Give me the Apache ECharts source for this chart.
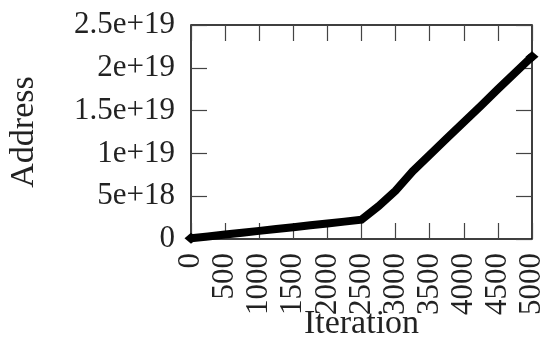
<!DOCTYPE html>
<html>
<head>
<meta charset="utf-8">
<script src="https://cdn.jsdelivr.net/npm/echarts@6/dist/echarts.min.js"></script>
<style>
  html, body { margin: 0; padding: 0; background: #fff; }
  #chart { width: 552px; height: 341px; }
</style>
</head>
<body>
<div id="chart"></div>
<script>
// Address reached at each iteration
const iterations = [0, 250, 500, 750, 1000, 1250, 1500, 1750, 2000, 2250, 2500,
  2750, 3000, 3250, 3500, 3750, 4000, 4250, 4500, 4750, 5000];
const addresses = [0.08e18, 0.30e18, 0.52e18, 0.74e18, 0.95e18, 1.17e18, 1.38e18,
  1.60e18, 1.81e18, 2.03e18, 2.25e18, 3.83e18, 5.64e18, 7.90e18, 9.84e18,
  11.75e18, 13.65e18, 15.55e18, 17.50e18, 19.40e18, 21.30e18];

const xTickLabels = ['0', '500', '1000', '1500', '2000', '2500', '3000', '3500', '4000', '4500', '5000'];
const yTickLabels = ['0', '5e+18', '1e+19', '1.5e+19', '2e+19', '2.5e+19'];

const FONT = 'Liberation Serif';
const X_STEP = 500;
const Y_STEP = 5e18;

const points = iterations.map((it, i) => [it, addresses[i]]);

function ticks() {
  return { show: true, inside: true, length: 16, lineStyle: { color: '#444', width: 1.2 } };
}
function noLine() {
  return { show: false, onZero: false };
}

const chart = echarts.init(document.getElementById('chart'), null, { renderer: 'canvas' });
chart.setOption({
  animation: false,
  backgroundColor: '#fff',
  grid: {
    left: 191, right: 20, top: 25, bottom: 102,
    containLabel: false, outerBoundsMode: 'none',
    show: true, borderColor: '#000', borderWidth: 1.5, backgroundColor: 'transparent'
  },
  xAxis: [{
    type: 'value', min: 0, max: 5000, interval: X_STEP, position: 'bottom',
    name: 'Iteration', nameLocation: 'middle', nameGap: 68, nameMoveOverlap: false,
    nameTextStyle: { fontFamily: FONT, fontSize: 34, color: '#222' },
    axisLine: noLine(), axisTick: ticks(), splitLine: { show: false },
    axisLabel: {
      rotate: 90, margin: 14, fontFamily: FONT, fontSize: 31, color: '#222',
      formatter: v => xTickLabels[Math.round(v / X_STEP)]
    }
  }, {
    type: 'value', min: 0, max: 5000, interval: X_STEP, position: 'top',
    axisLine: noLine(), axisTick: ticks(), splitLine: { show: false },
    axisLabel: { show: false }
  }],
  yAxis: [{
    type: 'value', min: 0, max: 2.5e19, interval: Y_STEP, position: 'left',
    name: 'Address', nameLocation: 'middle', nameGap: 150, nameMoveOverlap: false,
    nameTextStyle: { fontFamily: FONT, fontSize: 34, color: '#222' },
    axisLine: noLine(), axisTick: ticks(), splitLine: { show: false },
    axisLabel: {
      margin: 16, fontFamily: FONT, fontSize: 31, color: '#222',
      formatter: v => yTickLabels[Math.round(v / Y_STEP)]
    }
  }, {
    type: 'value', min: 0, max: 2.5e19, interval: Y_STEP, position: 'right',
    axisLine: noLine(), axisTick: ticks(), splitLine: { show: false },
    axisLabel: { show: false }
  }],
  series: [{
    type: 'line',
    xAxisIndex: 0, yAxisIndex: 0,
    data: points,
    clip: false,
    symbol: 'diamond',
    showAllSymbol: true,
    symbolSize: (val, params) =>
      (params.dataIndex === 0 || params.dataIndex === points.length - 1) ? [13, 11] : 0,
    itemStyle: { color: '#000' },
    lineStyle: { color: '#000', width: 8, join: 'miter', cap: 'butt' },
    z: 5
  }, {
    // carries the mirrored top/right axes so their ticks are laid out
    type: 'line',
    xAxisIndex: 1, yAxisIndex: 1,
    data: points,
    symbol: 'none',
    silent: true,
    lineStyle: { opacity: 0 },
    z: 0
  }]
});
</script>
</body>
</html>
